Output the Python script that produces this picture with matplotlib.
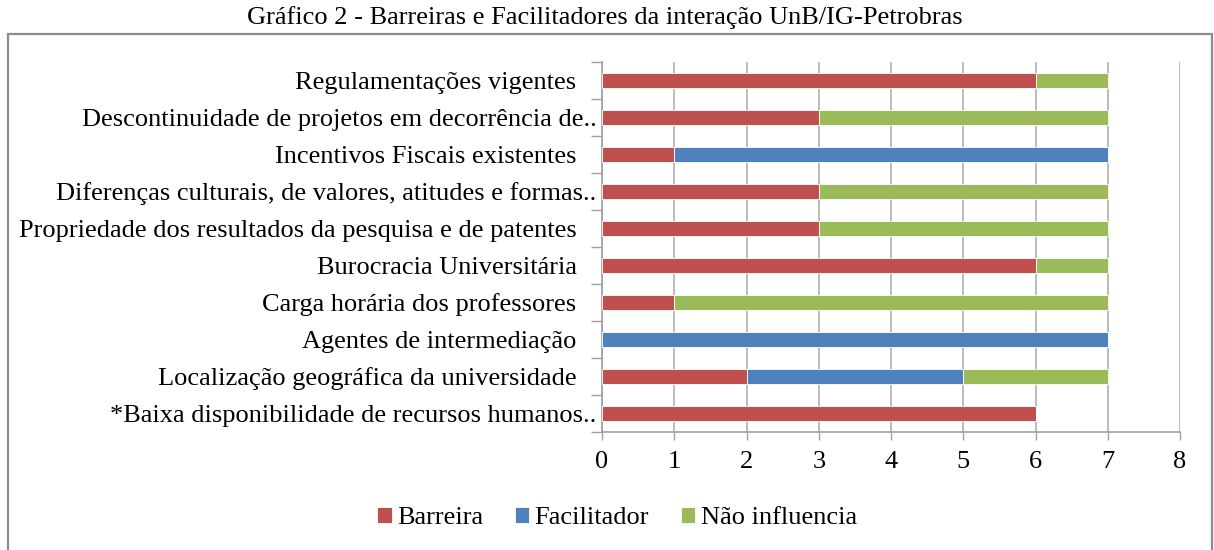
import matplotlib
matplotlib.use("Agg")
import matplotlib.pyplot as plt
from matplotlib.patches import Rectangle
import numpy as np

categories = [
    "Regulamentações vigentes   ",
    "Descontinuidade de projetos em decorrência de..",
    "Incentivos Fiscais existentes   ",
    "Diferenças culturais, de valores, atitudes e formas..",
    "Propriedade dos resultados da pesquisa e de patentes   ",
    "Burocracia Universitária   ",
    "Carga horária dos professores   ",
    "Agentes de intermediação   ",
    "Localização geográfica da universidade   ",
    "*Baixa disponibilidade de recursos humanos..",
]
barreira = [6, 3, 1, 3, 3, 6, 1, 0, 2, 6]
facilitador = [0, 0, 6, 0, 0, 0, 0, 7, 3, 0]
nao_influencia = [1, 4, 0, 4, 4, 1, 6, 0, 2, 0]
series_names = ["Barreira", "Facilitador", "Não influencia"]
colors = ["#C0504D", "#4F81BD", "#9BBB59"]
x_ticks = [0, 1, 2, 3, 4, 5, 6, 7, 8]
title = "Gráfico 2 - Barreiras e Facilitadores da interação UnB/IG-Petrobras"

plt.rcParams['font.family'] = ['Liberation Serif', 'DejaVu Serif']

W, H = 1214, 550
FS = 19
fig = plt.figure(figsize=(W / 100, H / 100), dpi=100)

# outer frame
frame = Rectangle((8 / W, -0.05), (1212 - 8) / W, 1.05 - 34 / H,
                  transform=fig.transFigure, fill=False, edgecolor="#8c8c8c",
                  linewidth=1.6, zorder=0)
fig.add_artist(frame)
fig.text(605 / W, 1 - 18 / H, title, ha="center", va="center", fontsize=FS)

left, right, top, bottom = 602 / W, 1180 / W, 62 / H, 432 / H
ax = fig.add_axes([left, 1 - bottom, right - left, bottom - top])

n = len(categories)
y = np.arange(n)
bh = 0.38
b = np.array(barreira, dtype=float)
f = np.array(facilitador, dtype=float)
g = np.array(nao_influencia, dtype=float)
kw = dict(height=bh, edgecolor="white", linewidth=0.6, zorder=3)
ax.barh(y, b, color=colors[0], label=series_names[0], **kw)
ax.barh(y, f, left=b, color=colors[1], label=series_names[1], **kw)
ax.barh(y, g, left=b + f, color=colors[2], label=series_names[2], **kw)

ax.set_xlim(0, 8)
ax.set_ylim(n - 0.5, -0.5)
ax.set_xticks(x_ticks)
ax.set_xticklabels([str(t) for t in x_ticks])
ax.set_yticks(y)
ax.set_yticklabels(categories)
ax.set_yticks(np.arange(-0.5, n, 1), minor=True)
ax.tick_params(axis="y", which="major", length=0, pad=4, labelsize=FS)
ax.tick_params(axis="y", which="minor", length=8, width=1, color="#a0a0a0")
ax.tick_params(axis="x", which="major", length=6, width=1, color="#a0a0a0",
               labelsize=FS, pad=8)
ax.grid(axis="x", color="#b0b0b0", linewidth=1.2, zorder=0)
ax.set_axisbelow(True)
for s in ["top", "right"]:
    ax.spines[s].set_visible(False)
for s in ["left", "bottom"]:
    ax.spines[s].set_color("#a0a0a0")
    ax.spines[s].set_linewidth(1.2)

leg = fig.legend(loc="center", bbox_to_anchor=(617 / W, 1 - 518 / H), ncol=3,
                 frameon=False, fontsize=FS, handlelength=0.55, handleheight=0.55,
                 handletextpad=0.2, columnspacing=1.2)

fig.savefig("out.png", dpi=100, facecolor="white")
